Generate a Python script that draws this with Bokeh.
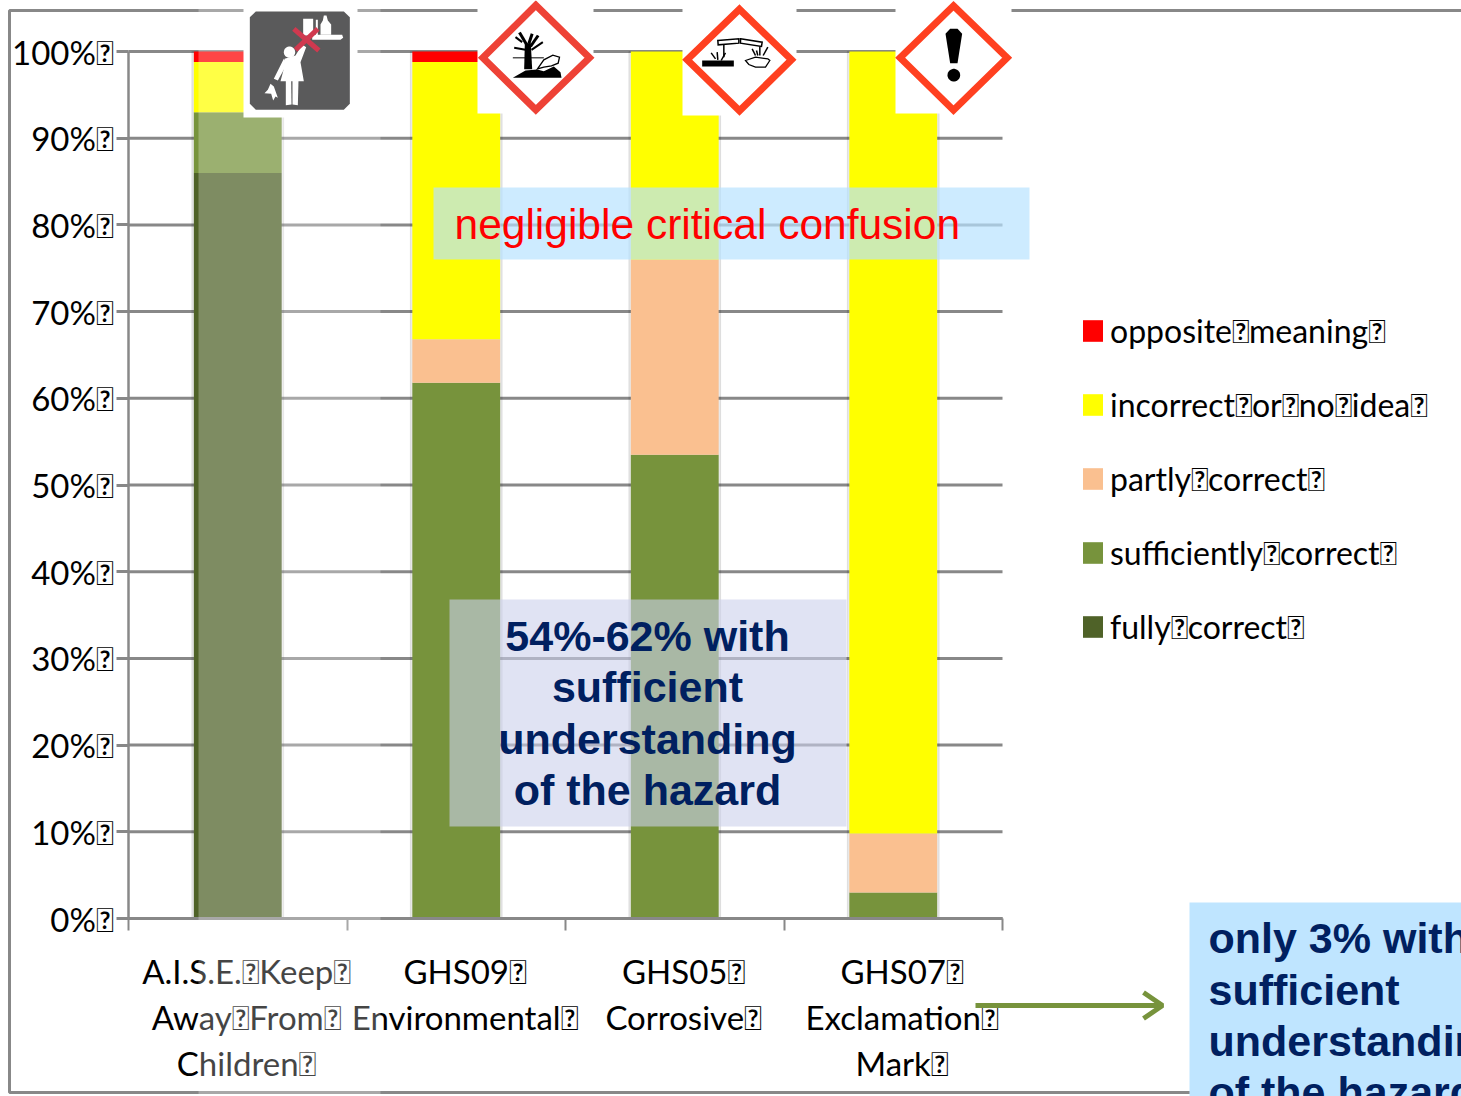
import math
from bokeh.embed import file_html
from bokeh.resources import INLINE
from bokeh.plotting import figure
from bokeh.models import (ColumnDataSource, Range1d, FixedTicker, Legend, LegendItem,
                          BoxAnnotation, PolyAnnotation, Label)

T = "\uf020"
categories = [f"A.I.S.E.{T}Keep{T}\nAway{T}From{T}\nChildren{T}",
              f"GHS09{T}\nEnvironmental{T}",
              f"GHS05{T}\nCorrosive{T}",
              f"GHS07{T}\nExclamation{T}\nMark{T}"]
series_names = [f"fully{T}correct{T}", f"sufficiently{T}correct{T}", f"partly{T}correct{T}",
                f"incorrect{T}or{T}no{T}idea{T}", f"opposite{T}meaning{T}"]
fully = [86, 0, 0, 0]
sufficient = [7, 61.8, 53.5, 3]
partly = [0, 5, 22.5, 6.8]
incorrect = [5.8, 32, 24, 90.2]
opposite = [1.2, 1.2, 0, 0]
colors = ["#4f6228", "#77933c", "#fac090", "#ffff00", "#ff0000"]
y_ticks = [0, 10, 20, 30, 40, 50, 60, 70, 80, 90, 100]
FONT = "Lato"
BOLD = "Liberation Sans"
GRAY = "#888888"

W, H = 1461, 1096
L, R, TOP, BOT = 128, 1002, 51, 918
def X(px): return (px - L) / (R - L) * 4
def Y(py): return (BOT - py) / (BOT - TOP) * 100

p = figure(width=W, height=H, output_backend="svg", toolbar_location=None,
           x_range=Range1d(X(0), X(W)), y_range=Range1d(Y(H), Y(0)), min_border=0)
p.outline_line_color = None
p.background_fill_color = "white"
p.xgrid.visible = False
p.ygrid.visible = False

# axes sit at the chart's own zero, inside the full-page frame
ya = p.yaxis[0]
ya.fixed_location = 0
ya.bounds = (0, 100)
ya.ticker = FixedTicker(ticks=y_ticks)
ya.major_label_overrides = {v: f"{v}%{T}" for v in y_ticks}
ya.major_label_text_font = FONT
ya.major_label_text_font_size = "33px"
ya.major_label_text_color = "black"
ya.major_label_standoff = 3
ya.axis_line_color = GRAY
ya.axis_line_width = 2.5
ya.major_tick_line_color = GRAY
ya.major_tick_line_width = 3
ya.major_tick_out = 12
ya.major_tick_in = 0
ya.minor_tick_line_color = None

xpos = [0.5, 1.5, 2.5, 3.5]
label_pos = [x + 0.04 for x in xpos]
xa = p.xaxis[0]
xa.fixed_location = 0
xa.bounds = (0, 4)
xa.ticker = FixedTicker(ticks=label_pos, minor_ticks=[0, 1, 2, 3, 4])
xa.major_label_overrides = dict(zip(label_pos, categories))
xa.major_label_text_font = FONT
xa.major_label_text_font_size = "33px"
xa.major_label_text_color = "black"
xa.major_label_text_line_height = 1.15
xa.major_label_standoff = 20
xa.axis_line_color = GRAY
xa.axis_line_width = 3
xa.major_tick_line_color = None
xa.major_tick_out = 0
xa.minor_tick_line_color = GRAY
xa.minor_tick_line_width = 2
xa.minor_tick_out = 12
xa.minor_tick_in = 0

# grid
p.segment(x0=[0] * len(y_ticks), x1=[4] * len(y_ticks), y0=y_ticks, y1=y_ticks,
          line_color=GRAY, line_width=3)

# bars
totals = [sum(v) for v in zip(fully, sufficient, partly, incorrect, opposite)]
src = ColumnDataSource(dict(x=xpos, fully=fully, sufficient=sufficient, partly=partly,
                            incorrect=incorrect, opposite=opposite, total=totals))
p.vbar(x="x", top="total", width=0.42, source=src, color="black", alpha=0.09)
keys = ["fully", "sufficient", "partly", "incorrect", "opposite"]
rs = p.vbar_stack(keys, x="x", width=0.402, source=src, color=colors, line_color=None)

def box(x0, x1, y0, y1, fill, alpha=1.0, line=None, lw=0):
    b = BoxAnnotation(left=X(x0), right=X(x1), top=Y(y0), bottom=Y(y1),
                      fill_color=fill, fill_alpha=alpha, line_color=line, line_width=lw,
                      line_alpha=1.0 if line else 0)
    p.add_layout(b)

def poly(ox, pts, fill=None, line=None, lw=0, alpha=1.0, join="miter"):
    xs = [X(ox + a / 3) for a, b in pts]
    ys = [Y(b / 3) for a, b in pts]
    p.add_layout(PolyAnnotation(xs=xs, ys=ys, fill_color=fill, fill_alpha=alpha if fill else 0,
                                line_color=line, line_width=lw, line_alpha=alpha if line else 0,
                                line_join=join))

def stroke(ox, pts, color="black", lw=1.5, alpha=1.0):
    poly(ox, pts + pts[-2:0:-1], None, color, lw, alpha, join="bevel")

def circle(ox, cx, cy, r, fill):
    poly(ox, [(cx + r * math.cos(i * math.pi / 15), cy + r * math.sin(i * math.pi / 15))
              for i in range(30)], fill)

def text(s, px, py, size, color, font=BOLD, style="normal", align="left"):
    p.add_layout(Label(x=X(px), y=Y(py), text=s, text_font=font, text_font_style=style,
                       text_font_size=f"{size}px", text_color=color, text_align=align,
                       text_baseline="middle"))

# slide frame and the pale layer that overlaps the first column
box(9, 1480, 10, 1092, None, 0, GRAY, 3)
box(198, 380, 8, 1094, "#ffffff", 0.27)

# call-outs
box(433, 1029, 187, 259, "#b7e2ff", 0.69)
text("negligible critical confusion", 454, 224, 42.5, "#ff0000")
box(449, 846, 599, 826, "#cbd0eb", 0.6)
for s, yy in zip(["54%-62% with", "sufficient", "understanding", "of the hazard"], [635, 686, 738, 789]):
    text(s, 647, yy, 43, "#002060", style="bold", align="center")
box(1189, 1480, 902, 1110, "#bfe5ff")
for s, yy in zip(["only 3% with", "sufficient", "understanding", "of the hazard"], [937, 989, 1040, 1091]):
    text(s, 1208, yy, 43, "#002060", style="bold")

# arrow
AG = "#77933c"
stroke(0, [(975 * 3, 1005 * 3), (1161 * 3, 1005 * 3)], AG, 5)
stroke(0, [(1143 * 3, 992 * 3), (1162 * 3, 1005 * 3), (1143 * 3, 1018 * 3)], AG, 5)

# pictogram 1: keep away from children
box(243, 357, 0, 117, "#ffffff")
ox = 240
poly(ox, [(46, 33), (310, 33), (328, 50), (328, 310), (310, 328), (46, 328), (28, 310), (28, 50)], "#5a5a5b")
W_ = "#ffffff"
poly(ox, [(188, 55), (218, 55), (218, 105), (188, 105)], W_)
poly(ox, [(226, 58), (232, 58), (232, 105), (226, 105)], W_)
poly(ox, [(250, 45), (258, 45), (262, 60), (272, 72), (272, 103), (240, 103), (240, 72), (247, 60)], W_)
poly(ox, [(215, 103), (305, 103), (308, 112), (300, 118), (215, 118)], W_)
circle(ox, 147, 155, 17, W_)
poly(ox, [(165, 165), (185, 132), (197, 140), (180, 185), (190, 242), (120, 242), (134, 190), (132, 175)], W_)
poly(ox, [(130, 175), (140, 190), (112, 240), (100, 235)], W_)
poly(ox, [(136, 240), (152, 240), (153, 312), (136, 314)], W_)
poly(ox, [(156, 240), (174, 240), (172, 314), (156, 312)], W_)
poly(ox, [(90, 250), (100, 258), (112, 292), (105, 288), (98, 300), (92, 280), (72, 278), (82, 268)], W_)
stroke(ox, [(160, 85), (235, 150)], "#d0394f", 5)
stroke(ox, [(232, 85), (165, 148)], "#d0394f", 5)

def diamond(x0, x1, y0, y1, ox, pts, color):
    box(x0, x1, y0, y1, "#ffffff")
    poly(ox, pts, "#ffffff", color, 7)

# pictogram 2: environment
diamond(477, 593, 0, 113, 475, [(181, 14), (342, 172), (181, 328), (22, 172)], "#ee4236")
ox = 475
poly(ox, [(148, 128), (166, 128), (170, 206), (146, 206)], "black")
stroke(ox, [(155, 135), (132, 96)], lw=3)
stroke(ox, [(140, 125), (120, 110)], lw=2)
stroke(ox, [(160, 130), (170, 100)], lw=3)
stroke(ox, [(165, 138), (188, 105)], lw=3)
stroke(ox, [(168, 148), (202, 125)], lw=2)
stroke(ox, [(150, 148), (116, 142)], lw=2)
stroke(ox, [(112, 172), (205, 172)], lw=1)
poly(ox, [(112, 232), (150, 210), (185, 207), (205, 212), (235, 198), (255, 215), (258, 232)], "black")
poly(ox, [(186, 205), (205, 178), (232, 164), (252, 170), (248, 188), (228, 196), (205, 200)], "#ffffff", "black", 1.3)

# pictogram 3: corrosive
diamond(682, 796, 4, 115, 680, [(177, 26), (333, 178), (177, 331), (20, 178)], "#ff4020")
ox = 680
poly(ox, [(65, 180), (160, 180), (160, 198), (65, 198)], "black")
poly(ox, [(112, 120), (175, 115), (175, 128), (113, 133)], "#ffffff", "black", 1.5)
poly(ox, [(180, 115), (245, 125), (243, 138), (180, 128)], "#ffffff", "black", 1.5)
for a in [[(130, 133), (130, 170)], [(92, 157), (105, 175)], [(135, 157), (122, 180)], [(110, 155), (112, 178)],
          [(238, 138), (238, 165)], [(215, 145), (225, 165)], [(262, 140), (248, 165)], [(228, 150), (232, 165)]]:
    stroke(ox, a, lw=1.5)
poly(ox, [(195, 180), (225, 170), (262, 175), (268, 180), (255, 200), (225, 200), (205, 192)], "#ffffff", "black", 1.3)

# pictogram 4: exclamation mark
diamond(895, 1011, 1, 113, 893, [(180, 16), (341, 172), (180, 329), (20, 172)], "#ff4020")
ox = 893
poly(ox, [(156, 100), (170, 85), (192, 85), (206, 100), (192, 188), (170, 188)], "black")
circle(ox, 181, 224, 19, "black")

# legend
items = [LegendItem(label=n, renderers=[r]) for n, r in zip(series_names, rs)][::-1]
leg = Legend(items=items, location=(1080, H - 646), orientation="vertical",
             border_line_color=None, background_fill_alpha=0,
             label_text_font=FONT, label_text_font_size="32px", label_text_color="black",
             glyph_width=25, glyph_height=27, label_standoff=5, spacing=35,
             padding=0, margin=0)
p.add_layout(leg)

open("out.html", "w").write(file_html(p, INLINE))
